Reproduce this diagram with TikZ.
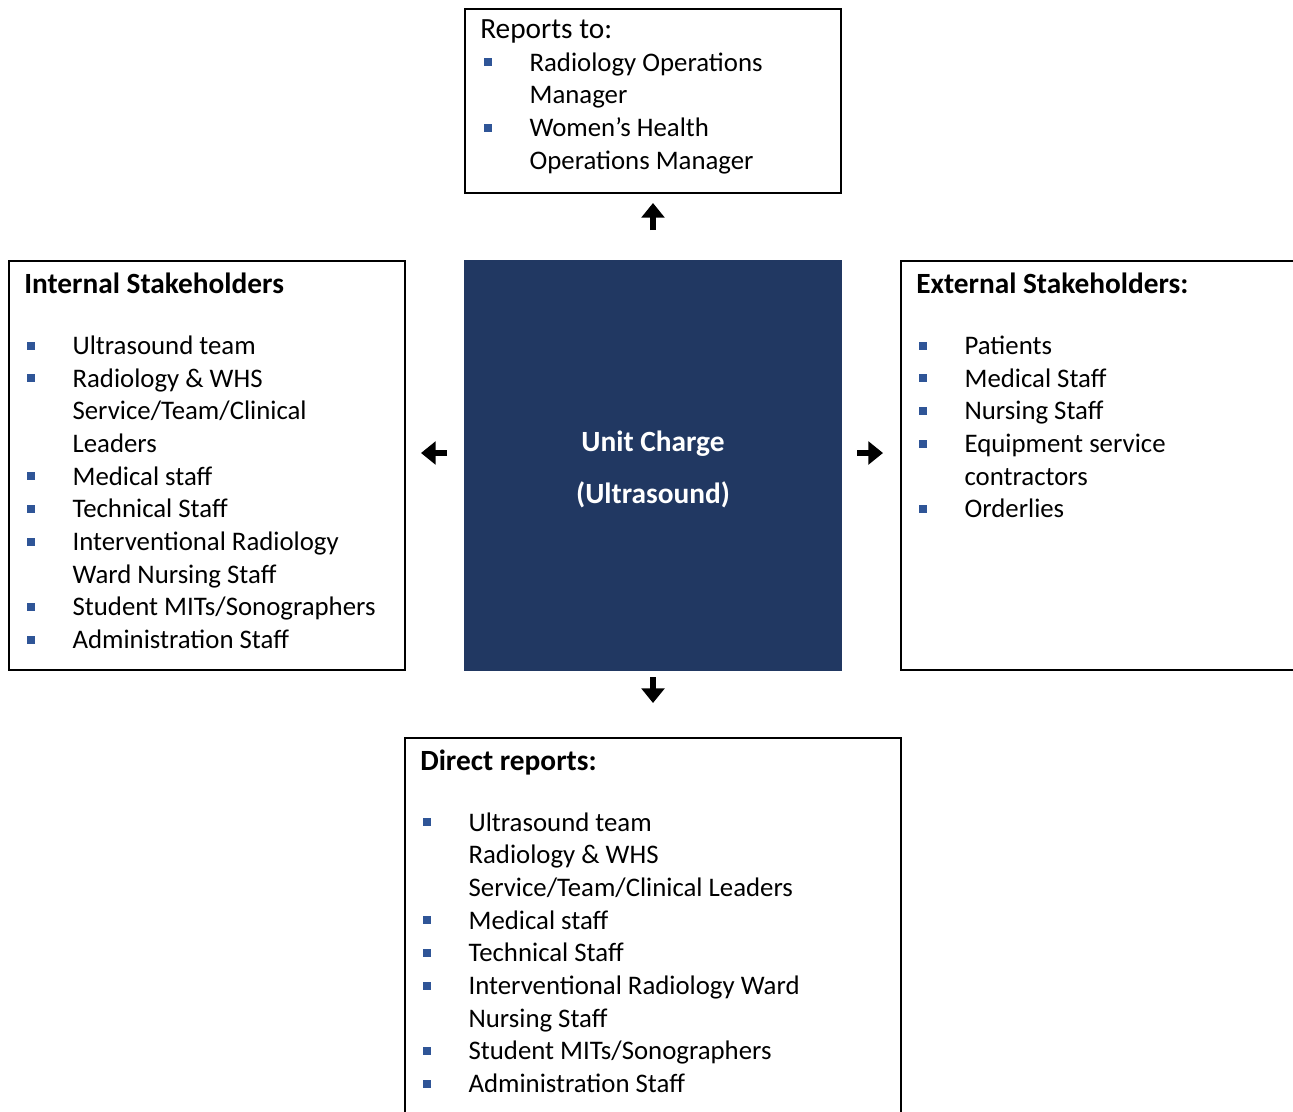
\documentclass[tikz,border=0pt]{standalone}
\usepackage{fontspec}
\setmainfont{Carlito}
\usetikzlibrary{arrows.meta}
\definecolor{navy}{RGB}{33,56,98}
\definecolor{bulblue}{RGB}{47,85,151}
\newcommand\blt{\textcolor{bulblue}{\rule[3.6pt]{6pt}{6pt}}}
\begin{document}
\begin{tikzpicture}[x=0.75pt,y=-0.75pt,
	every node/.style={font=\fontsize{20.1}{24.5}\selectfont,inner sep=0pt},
	box/.style={draw,line width=1.5pt,outer sep=0pt,anchor=north west},
	hdr/.style={anchor=base west,font=\fontsize{22}{26}\selectfont\bfseries},
	lst/.style={anchor=base west},
	arr/.style={line width=4pt,-{Triangle[width=17pt,length=11pt]}}]
	\useasboundingbox (0,0) rectangle (1293,1111);
	% boxes
	\node[box,minimum width=282pt,minimum height=138pt] (rep) at (465,9) {};
	\node[box,minimum width=297pt,minimum height=306.75pt] (int) at (9,261) {};
	\node[box,fill=navy,draw=navy,minimum width=282pt,minimum height=306.75pt] (unit) at (465,261) {};
	\node[box,minimum width=306.75pt,minimum height=306.75pt] (ext) at (901,261) {};
	\node[box,minimum width=372pt,minimum height=294pt] (dir) at (405,738) {};
	% texts
	\node[text=white,align=center,font=\fontsize{22}{39}\selectfont\bfseries] (unittx)
		at ([shift={(0,4)}]unit.center) {Unit Charge\\(Ultrasound)};
	\node[anchor=base west,font=\fontsize{22}{26}\selectfont] (rephd) at ([shift={(15,29.5)}]rep.north west) {Reports to:};
	\node[lst] (repls) at ([shift={(19,62)}]rep.north west) {\begin{tabular}[t]{@{}p{34pt}@{}l@{}}
		\blt & Radiology Operations\\ & Manager\\
		\blt & Women’s Health\\ & Operations Manager\end{tabular}};
	\node[hdr] (inthd) at ([shift={(15,32.5)}]int.north west) {Internal Stakeholders};
	\node[lst] (intls) at ([shift={(18,93.5)}]int.north west) {\begin{tabular}[t]{@{}p{34pt}@{}l@{}}
		\blt & Ultrasound team\\
		\blt & Radiology \& WHS\\ & Service/Team/Clinical\\ & Leaders\\
		\blt & Medical staff\\
		\blt & Technical Staff\\
		\blt & Interventional Radiology\\ & Ward Nursing Staff\\
		\blt & Student MITs/Sonographers\\
		\blt & Administration Staff\end{tabular}};
	\node[hdr] (exthd) at ([shift={(15,32.5)}]ext.north west) {External Stakeholders:};
	\node[lst] (extls) at ([shift={(18,93.5)}]ext.north west) {\begin{tabular}[t]{@{}p{34pt}@{}l@{}}
		\blt & Patients\\
		\blt & Medical Staff\\
		\blt & Nursing Staff\\
		\blt & Equipment service\\ & contractors\\
		\blt & Orderlies\end{tabular}};
	\node[hdr] (dirhd) at ([shift={(15,32.5)}]dir.north west) {Direct reports:};
	\node[lst] (dirls) at ([shift={(18,93)}]dir.north west) {\begin{tabular}[t]{@{}p{34pt}@{}l@{}}
		\blt & Ultrasound team\\ & Radiology \& WHS\\ & Service/Team/Clinical Leaders\\
		\blt & Medical staff\\
		\blt & Technical Staff\\
		\blt & Interventional Radiology Ward\\ & Nursing Staff\\
		\blt & Student MITs/Sonographers\\
		\blt & Administration Staff\end{tabular}};
	% arrows
	\draw[arr] ([shift={(0,-31)}]unit.north) -- ([shift={(0,-58)}]unit.north);
	\draw[arr] ([shift={(0,7)}]unit.south) -- ([shift={(0,33)}]unit.south);
	\draw[arr] ([shift={(-18,-12.5)}]unit.west) -- ([shift={(-44,-12.5)}]unit.west);
	\draw[arr] ([shift={(16,-12.5)}]unit.east) -- ([shift={(42,-12.5)}]unit.east);
\end{tikzpicture}
\end{document}
